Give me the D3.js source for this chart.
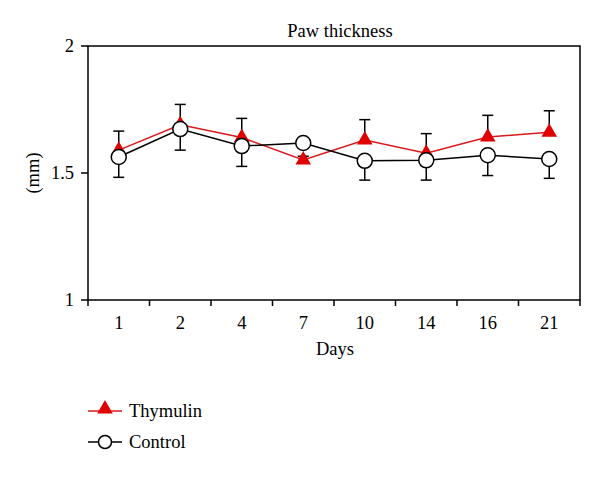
<!DOCTYPE html>
<html><head><meta charset="utf-8">
<script src="https://cdn.jsdelivr.net/npm/d3@7"></script>
<style>body{margin:0;background:#fff}</style>
</head><body>
<svg id="c" width="600" height="477"></svg>
<script>
const days = ["1","2","4","7","10","14","16","21"];
const thymulin = [1.59, 1.69, 1.64, 1.551, 1.63, 1.578, 1.642, 1.66];
const thymulinErr = [0.075, 0.08, 0.075, 0.015, 0.08, 0.077, 0.085, 0.085];
const control = [1.563, 1.673, 1.606, 1.618, 1.548, 1.55, 1.57, 1.555];
const controlErr = [0.08, 0.083, 0.08, 0.015, 0.076, 0.078, 0.08, 0.076];
const yTicks = [1, 1.5, 2];
const yTickLabels = ["1", "1.5", "2"];

const svg = d3.select("#c");
const font = "'Liberation Serif', 'Times New Roman', serif";
const fs = 18.5;
const L = 88, R = 580, T = 46, B = 300;
const x = d3.scaleBand().domain(days).range([L, R]);
const y = d3.scaleLinear().domain([1, 2]).range([B, T]);
const cx = d => x(d) + x.bandwidth() / 2;

// frame
svg.append("rect").attr("x", L).attr("y", T).attr("width", R - L).attr("height", B - T)
  .attr("fill", "none").attr("stroke", "#000").attr("stroke-width", 1.5);

// y ticks
yTicks.forEach((t, i) => {
  svg.append("line").attr("x1", L - 7).attr("x2", L).attr("y1", y(t)).attr("y2", y(t))
    .attr("stroke", "#000").attr("stroke-width", 1.5);
  svg.append("text").attr("x", L - 14).attr("y", y(t) + 6).attr("text-anchor", "end")
    .attr("font-family", font).attr("font-size", fs).text(yTickLabels[i]);
});
// x ticks at band boundaries
const bounds = days.map(d => x(d)).concat([R]);
bounds.forEach(b => {
  svg.append("line").attr("x1", b).attr("x2", b).attr("y1", B).attr("y2", B + 6)
    .attr("stroke", "#000").attr("stroke-width", 1.5);
});
days.forEach(d => {
  svg.append("text").attr("x", cx(d)).attr("y", B + 29).attr("text-anchor", "middle")
    .attr("font-family", font).attr("font-size", fs).text(d);
});
svg.append("text").attr("x", (L + R) / 2 + 1).attr("y", 355).attr("text-anchor", "middle")
  .attr("font-family", font).attr("font-size", fs).text("Days");
svg.append("text").attr("transform", `translate(39,${y(1.5)}) rotate(-90)`).attr("text-anchor", "middle")
  .attr("font-family", font).attr("font-size", fs).text("(mm)");
svg.append("text").attr("x", 340).attr("y", 37).attr("text-anchor", "middle")
  .attr("font-family", font).attr("font-size", fs).text("Paw thickness");

// error bars: thymulin up, control down
function errBars(vals, errs, dir) {
  days.forEach((d, i) => {
    const y0 = y(vals[i]), y1 = y(vals[i] + dir * errs[i]);
    svg.append("line").attr("x1", cx(d)).attr("x2", cx(d)).attr("y1", y0).attr("y2", y1)
      .attr("stroke", "#000").attr("stroke-width", 1.5);
    svg.append("line").attr("x1", cx(d) - 5.5).attr("x2", cx(d) + 5.5).attr("y1", y1).attr("y2", y1)
      .attr("stroke", "#000").attr("stroke-width", 1.5);
  });
}
errBars(thymulin, thymulinErr, 1);
errBars(control, controlErr, -1);

const line = d3.line().x((v, i) => cx(days[i])).y(v => y(v));
svg.append("path").attr("d", line(thymulin)).attr("fill", "none").attr("stroke", "#d7191c").attr("stroke-width", 1.5);
svg.append("path").attr("d", line(control)).attr("fill", "none").attr("stroke", "#000").attr("stroke-width", 1.5);

const tri = d3.symbol().type(d3.symbolTriangle).size(105);
days.forEach((d, i) => {
  svg.append("path").attr("d", tri()).attr("transform", `translate(${cx(d)},${y(thymulin[i])})`)
    .attr("fill", "#e00000");
});
days.forEach((d, i) => {
  svg.append("circle").attr("cx", cx(d)).attr("cy", y(control[i])).attr("r", 7.5)
    .attr("fill", "#fff").attr("stroke", "#000").attr("stroke-width", 1.5);
});

// legend
const lg = [{name: "Thymulin", y: 411, type: "tri"}, {name: "Control", y: 442, type: "circ"}];
lg.forEach(l => {
  svg.append("line").attr("x1", 88).attr("x2", 122).attr("y1", l.y).attr("y2", l.y)
    .attr("stroke", l.type === "tri" ? "#d7191c" : "#000").attr("stroke-width", 1.5);
  if (l.type === "tri") {
    svg.append("path").attr("d", tri()).attr("transform", `translate(105,${l.y - 2})`).attr("fill", "#e00000");
  } else {
    svg.append("circle").attr("cx", 105).attr("cy", l.y).attr("r", 6.5)
      .attr("fill", "#fff").attr("stroke", "#000").attr("stroke-width", 1.5);
  }
  svg.append("text").attr("x", 129).attr("y", l.y + 6).attr("font-family", font).attr("font-size", fs).text(l.name);
});
</script>
</body></html>
